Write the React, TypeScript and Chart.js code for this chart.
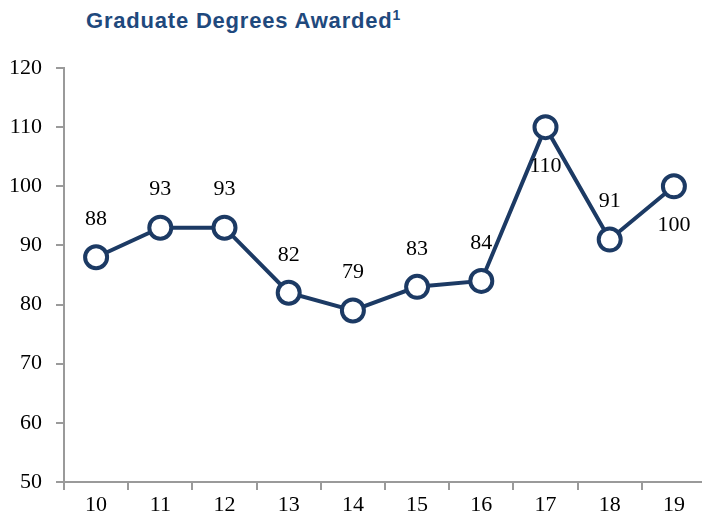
import React, { useEffect, useRef } from "react";
import { Chart, registerables } from "chart.js";

Chart.register(...registerables);

const categories = ["10", "11", "12", "13", "14", "15", "16", "17", "18", "19"];
const degrees = [88, 93, 93, 82, 79, 83, 84, 110, 91, 100];
const labelBelow = [false, false, false, false, false, false, false, true, false, true];

const NAVY = "#1C3A64";
const AXIS = "#9A9A9A";
const SERIF = "'Liberation Serif', 'Times New Roman', serif";

const dataLabels = {
  id: "dataLabels",
  afterDatasetsDraw(chart: any) {
    const ctx = chart.ctx;
    const meta = chart.getDatasetMeta(0);
    ctx.save();
    ctx.font = `22px ${SERIF}`;
    ctx.fillStyle = "#000";
    ctx.textAlign = "center";
    ctx.textBaseline = "middle";
    meta.data.forEach((pt: any, i: number) => {
      const dy = labelBelow[i] ? 39 : -38;
      ctx.fillText(String(degrees[i]), pt.x, pt.y + dy);
    });
    ctx.restore();
  },
};

export default function App() {
  const ref = useRef<HTMLCanvasElement | null>(null);
  useEffect(() => {
    if (!ref.current) return;
    const chart = new Chart(ref.current, {
      type: "line",
      data: {
        labels: categories,
        datasets: [
          {
            data: degrees,
            borderColor: NAVY,
            borderWidth: 4,
            pointRadius: 11,
            pointBorderWidth: 4,
            pointBackgroundColor: "#fff",
            pointBorderColor: NAVY,
            tension: 0,
          },
        ],
      },
      options: {
        animation: false,
        responsive: false,
        layout: { autoPadding: false, padding: { top: 68, left: 0, right: 0, bottom: 0 } },
        plugins: { legend: { display: false }, tooltip: { enabled: false } },
        scales: {
          x: {
            offset: true,
            grid: { offset: true, drawOnChartArea: false, drawTicks: true, tickLength: 8, color: AXIS, lineWidth: 2 },
            border: { color: AXIS, width: 2 },
            ticks: { color: "#000", font: { family: SERIF, size: 22 }, padding: 2 },
            afterFit: (s: any) => {
              s.height = 39;
              s.paddingLeft = 0;
              s.paddingRight = 0;
            },
          },
          y: {
            min: 50,
            max: 120,
            ticks: { stepSize: 10, color: "#000", font: { family: SERIF, size: 22 }, padding: 14 },
            grid: { drawOnChartArea: false, drawTicks: true, tickLength: 8, color: AXIS, lineWidth: 2 },
            border: { color: AXIS, width: 2 },
            afterFit: (s: any) => {
              s.width = 64;
              s.paddingTop = 0;
              s.paddingBottom = 0;
            },
          },
        },
      },
      plugins: [dataLabels],
    });
    return () => chart.destroy();
  }, []);
  return (
    <div style={{ position: "fixed", left: 0, top: 0, width: 702, height: 521, overflow: "hidden", background: "#fff" }}>
      <div
        style={{
          position: "absolute",
          left: 86,
          top: 8,
          fontFamily: "'Liberation Sans', Arial, sans-serif",
          fontWeight: "bold",
          fontSize: 22,
          lineHeight: "25px",
          letterSpacing: "0.8px",
          color: "#1F497D",
          whiteSpace: "nowrap",
        }}
      >
        Graduate Degrees Awarded<sup style={{ fontSize: 14, lineHeight: 0, letterSpacing: 0 }}>1</sup>
      </div>
      <canvas ref={ref} width={706} height={521} style={{ position: "absolute", left: 0, top: 0 }} />
    </div>
  );
}
